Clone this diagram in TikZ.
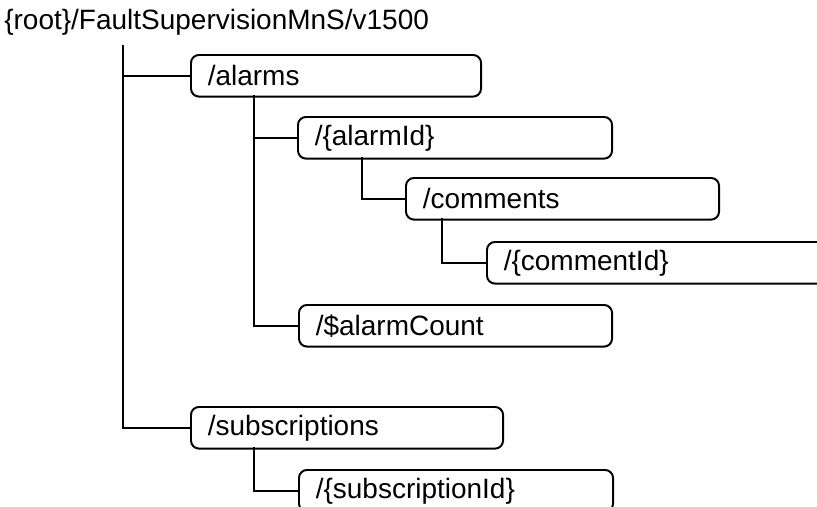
\documentclass[tikz,border=0pt]{standalone}
\usepackage{fontspec}
\setmainfont{Liberation Sans}
\usepackage{tikz}
\usetikzlibrary{positioning}

\begin{document}
\begin{tikzpicture}
[
	x	= 0.025cm,	% one unit is one pixel of the picture
	y	= -0.025cm,	% y runs downwards
	resbox/.style	= {draw = black, line width = 1.4pt, rounded corners = 0.2cm,
			   anchor = north west, minimum height = 1.04cm, inner xsep = 0.42cm,
			   align = left, font = \fontsize{19.9}{22}\selectfont},
	link/.style	= {draw = black, line width = 1.6pt},
]

{
	\useasboundingbox (0,0) rectangle (817,507);
	\clip (0,0) rectangle (817,507);

	% nodes declaration
	\node (nTitle) [anchor = west, inner sep = 0pt, font = \fontsize{19.9}{22}\selectfont] at (4,22) {\{root\}/FaultSupervisionMnS/v1500};

	\node (nAlarms) [resbox, text width = 6.41cm] at (190,54) {/alarms};
	\node (nAlarmId) [resbox, text width = 7.01cm] at (297,116) {/\{alarmId\}};
	\node (nComments) [resbox, text width = 6.985cm] at (405,177) {/comments};
	\node (nCommentId) [resbox, text width = 8.66cm] at (486,241) {/\{commentId\}};
	\node (nAlarmCount) [resbox, text width = 6.985cm] at (298,304) {/\$alarmCount};
	\node (nSubscriptions) [resbox, text width = 6.96cm] at (190,406) {/subscriptions};
	\node (nSubscriptionId) [resbox, text width = 7.01cm] at (298,469) {/\{subscriptionId\}};

	% trunk tops
	\coordinate (cRoot) at (123,45);
	\coordinate (cAlarms) at (254,95);
	\coordinate (cAlarmId) at (362,157);
	\coordinate (cComments) at (442,218);
	\coordinate (cSubscriptions) at (254,447);

	% edges declaration
	\draw [link] (cRoot) |- (nSubscriptions.west);
	\draw [link] (cRoot) |- (nAlarms.west);
	\draw [link] (cAlarms) |- (nAlarmCount.west);
	\draw [link] (cAlarms) |- (nAlarmId.west);
	\draw [link] (cAlarmId) |- (nComments.west);
	\draw [link] (cComments) |- (nCommentId.west);
	\draw [link] (cSubscriptions) |- (nSubscriptionId.west);
}

\end{tikzpicture}
\end{document}
